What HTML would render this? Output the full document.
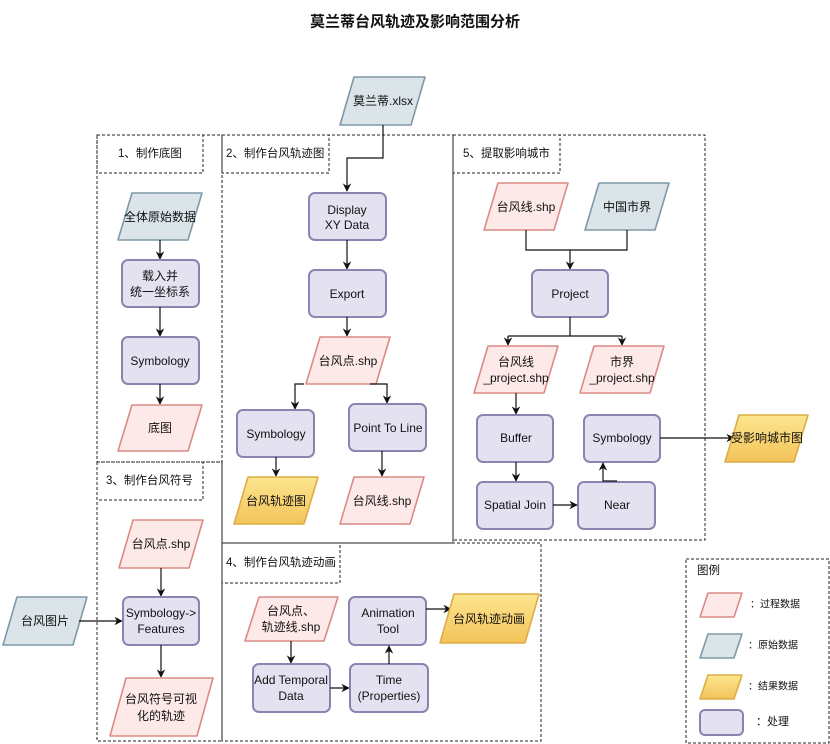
<!DOCTYPE html>
<html><head><meta charset="utf-8"><style>
html,body{margin:0;padding:0;background:#fff}
svg{display:block}
text{font-family:"Liberation Sans","Noto Sans CJK SC",sans-serif;font-size:12px;fill:#111;text-anchor:middle;dominant-baseline:central}
.p{fill:#e4e2f1;stroke:#8a84b0;stroke-width:2}
.pk{fill:#fde9e7;stroke:#d98b86;stroke-width:1.6;stroke-linejoin:round}
.bl{fill:#dbe4e9;stroke:#7e99a7;stroke-width:1.6;stroke-linejoin:round}
.yl{fill:url(#yg);stroke:#dcae45;stroke-width:1.6;stroke-linejoin:round}
.d{fill:none;stroke:#222;stroke-width:1;stroke-dasharray:3,2}
.l{fill:none;stroke:#111;stroke-width:1.2}
.lab{text-anchor:start;font-size:11.5px}
</style></head><body>
<svg width="830" height="744" viewBox="0 0 830 744">
<defs>
<linearGradient id="yg" x1="0" y1="0" x2="0" y2="1"><stop offset="0" stop-color="#fde68f"/><stop offset="1" stop-color="#f3c35a"/></linearGradient>
<marker id="a" viewBox="0 0 10 10" refX="9" refY="5" markerWidth="7" markerHeight="7" orient="auto"><path d="M0,0 L10,5 L0,10 L3,5 z" fill="#111"/></marker>
</defs>
<text x="415" y="22" style="font-size:15px;font-weight:bold">莫兰蒂台风轨迹及影响范围分析</text>

<!-- section boxes -->
<rect class="d" x="97" y="135" width="125" height="327"/>
<rect class="d" x="97" y="135" width="106" height="38"/>
<text class="lab" x="118" y="154">1、制作底图</text>
<rect class="d" x="222" y="135" width="231" height="408"/>
<rect class="d" x="222" y="135" width="107" height="38"/>
<text class="lab" x="226" y="154">2、制作台风轨迹图</text>
<rect class="d" x="453" y="135" width="252" height="405"/>
<rect class="d" x="453" y="135" width="107" height="38"/>
<text class="lab" x="463" y="154">5、提取影响城市</text>
<rect class="d" x="97" y="462" width="125" height="279"/>
<rect class="d" x="97" y="462" width="106" height="38"/>
<text class="lab" x="106" y="481">3、制作台风符号</text>
<rect class="d" x="222" y="543" width="319" height="198"/>
<rect class="d" x="222" y="543" width="118" height="40"/>
<text class="lab" x="226" y="563">4、制作台风轨迹动画</text>
<rect class="d" x="686" y="559" width="143" height="184"/>
<text class="lab" x="697" y="571">图例</text>

<!-- xlsx -->
<polygon class="bl" points="354,77 425,77 411,125 340,125"/>
<text x="383" y="101">莫兰蒂.xlsx</text>
<polyline class="l" points="383,125 383,158 347,158 347,191" marker-end="url(#a)"/>

<!-- section 1 -->
<polygon class="bl" points="132,193 202,193 188,240 118,240"/>
<text x="160" y="217">全体原始数据</text>
<line class="l" x1="160" y1="240" x2="160" y2="259" marker-end="url(#a)"/>
<rect class="p" x="122" y="260" width="77" height="47" rx="6"/>
<text x="160" y="276">载入并</text><text x="160" y="292">统一坐标系</text>
<line class="l" x1="160" y1="307" x2="160" y2="336" marker-end="url(#a)"/>
<rect class="p" x="122" y="337" width="77" height="47" rx="6"/>
<text x="160" y="361">Symbology</text>
<line class="l" x1="160" y1="384" x2="160" y2="404" marker-end="url(#a)"/>
<polygon class="pk" points="132,405 202,405 188,451 118,451"/>
<text x="160" y="428">底图</text>

<!-- section 2 -->
<rect class="p" x="309" y="193" width="77" height="47" rx="6"/>
<text x="347" y="210">Display</text><text x="347" y="225">XY Data</text>
<line class="l" x1="347" y1="240" x2="347" y2="269" marker-end="url(#a)"/>
<rect class="p" x="309" y="270" width="77" height="47" rx="6"/>
<text x="347" y="294">Export</text>
<line class="l" x1="347" y1="317" x2="347" y2="336" marker-end="url(#a)"/>
<polygon class="pk" points="320,337 390,337 376,384 306,384"/>
<text x="348" y="361">台风点.shp</text>
<polyline class="l" points="304,384 295,384 295,409" marker-end="url(#a)"/>
<polyline class="l" points="370,384 387,384 387,403" marker-end="url(#a)"/>
<rect class="p" x="237" y="410" width="77" height="47" rx="6"/>
<text x="276" y="434">Symbology</text>
<rect class="p" x="349" y="404" width="77" height="47" rx="6"/>
<text x="388" y="428">Point To Line</text>
<line class="l" x1="276" y1="457" x2="276" y2="476" marker-end="url(#a)"/>
<line class="l" x1="382" y1="451" x2="382" y2="476" marker-end="url(#a)"/>
<polygon class="yl" points="248,477 318,477 304,524 234,524"/>
<text x="276" y="501">台风轨迹图</text>
<polygon class="pk" points="354,477 424,477 410,524 340,524"/>
<text x="382" y="501">台风线.shp</text>

<!-- section 5 -->
<polygon class="pk" points="498,183 568,183 554,230 484,230"/>
<text x="526" y="207">台风线.shp</text>
<polygon class="bl" points="599,183 669,183 655,230 585,230"/>
<text x="627" y="207">中国市界</text>
<polyline class="l" points="526,230 526,250 627,250 627,230"/>
<line class="l" x1="570" y1="250" x2="570" y2="269" marker-end="url(#a)"/>
<rect class="p" x="532" y="270" width="76" height="47" rx="6"/>
<text x="570" y="294">Project</text>
<polyline class="l" points="570,317 570,336"/>
<polyline class="l" points="508,336 622,336"/>
<line class="l" x1="508" y1="336" x2="508" y2="345" marker-end="url(#a)"/>
<line class="l" x1="622" y1="336" x2="622" y2="345" marker-end="url(#a)"/>
<polygon class="pk" points="488,346 558,346 544,393 474,393"/>
<text x="516" y="362">台风线</text><text x="516" y="378">_project.shp</text>
<polygon class="pk" points="594,346 664,346 650,393 580,393"/>
<text x="622" y="362">市界</text><text x="622" y="378">_project.shp</text>
<line class="l" x1="516" y1="393" x2="516" y2="414" marker-end="url(#a)"/>
<rect class="p" x="477" y="415" width="76" height="47" rx="6"/>
<text x="516" y="438">Buffer</text>
<rect class="p" x="584" y="415" width="76" height="47" rx="6"/>
<text x="622" y="438">Symbology</text>
<line class="l" x1="516" y1="462" x2="516" y2="481" marker-end="url(#a)"/>
<rect class="p" x="477" y="482" width="76" height="47" rx="6"/>
<text x="515" y="505">Spatial Join</text>
<rect class="p" x="578" y="482" width="77" height="47" rx="6"/>
<text x="617" y="505">Near</text>
<line class="l" x1="553" y1="505" x2="577" y2="505" marker-end="url(#a)"/>
<polyline class="l" points="617,481 603,481 603,463" marker-end="url(#a)"/>
<line class="l" x1="660" y1="438" x2="734" y2="438" marker-end="url(#a)"/>
<polygon class="yl" points="739,415 808,415 794,462 725,462"/>
<text x="767" y="438">受影响城市图</text>

<!-- section 3 -->
<polygon class="pk" points="133,520 203,520 189,568 119,568"/>
<text x="161" y="544">台风点.shp</text>
<line class="l" x1="161" y1="568" x2="161" y2="596" marker-end="url(#a)"/>
<polygon class="bl" points="17,597 87,597 73,645 3,645"/>
<text x="45" y="621">台风图片</text>
<line class="l" x1="79" y1="621" x2="122" y2="621" marker-end="url(#a)"/>
<rect class="p" x="123" y="597" width="76" height="48" rx="6"/>
<text x="161" y="613">Symbology-&gt;</text><text x="161" y="629">Features</text>
<line class="l" x1="161" y1="645" x2="161" y2="677" marker-end="url(#a)"/>
<polygon class="pk" points="126,678 213,678 197,736 110,736"/>
<text x="161" y="699">台风符号可视</text><text x="161" y="716">化的轨迹</text>

<!-- section 4 -->
<polygon class="pk" points="259,597 338,597 324,641 245,641"/>
<text x="291" y="611">台风点、</text><text x="291" y="627">轨迹线.shp</text>
<line class="l" x1="291" y1="641" x2="291" y2="663" marker-end="url(#a)"/>
<rect class="p" x="349" y="597" width="77" height="48" rx="6"/>
<text x="388" y="613">Animation</text><text x="388" y="629">Tool</text>
<line class="l" x1="426" y1="609" x2="451" y2="609" marker-end="url(#a)"/>
<polygon class="yl" points="454,594 539,594 525,643 440,643"/>
<text x="489" y="619">台风轨迹动画</text>
<rect class="p" x="253" y="664" width="77" height="48" rx="6"/>
<text x="291" y="680">Add Temporal</text><text x="291" y="696">Data</text>
<line class="l" x1="330" y1="688" x2="349" y2="688" marker-end="url(#a)"/>
<rect class="p" x="350" y="664" width="78" height="48" rx="6"/>
<text x="389" y="680">Time</text><text x="389" y="696">(Properties)</text>
<line class="l" x1="389" y1="664" x2="389" y2="646" marker-end="url(#a)"/>

<!-- legend -->
<polygon class="pk" points="708,593 742,593 734,617 700,617"/>
<text class="lab" x="750" y="605" style="font-size:10px">：过程数据</text>
<polygon class="bl" points="708,634 742,634 734,658 700,658"/>
<text class="lab" x="748" y="646" style="font-size:10px">：原始数据</text>
<polygon class="yl" points="708,675 742,675 734,699 700,699"/>
<text class="lab" x="748" y="687" style="font-size:10px">：结果数据</text>
<rect class="p" x="700" y="710" width="43" height="25" rx="5"/>
<text class="lab" x="756" y="722" style="font-size:11px">：处理</text>
</svg>
</body></html>
